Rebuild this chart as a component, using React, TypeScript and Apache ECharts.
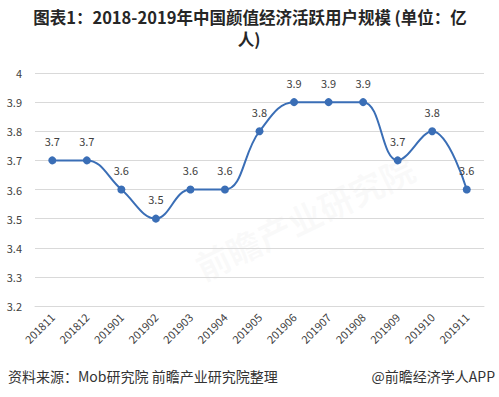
import React, { useEffect, useRef } from "react";
import * as echarts from "echarts";

const titleLine1 = "图表1：2018-2019年中国颜值经济活跃用户规模 (单位：亿";
const titleLine2 = "人)";
const sourceText = "资料来源：Mob研究院 前瞻产业研究院整理";
const creditText = "@前瞻经济学人APP";
const categories = [
  "201811", "201812", "201901", "201902", "201903", "201904", "201905",
  "201906", "201907", "201908", "201909", "201910", "201911",
];
const users = [3.7, 3.7, 3.6, 3.5, 3.6, 3.6, 3.8, 3.9, 3.9, 3.9, 3.7, 3.8, 3.6];

export default function App() {
  const ref = useRef<HTMLDivElement>(null);
  useEffect(() => {
    if (!ref.current) return;
    const chart = echarts.init(ref.current, null, { renderer: "svg" });
    const font = "'Noto Sans CJK SC', 'Microsoft YaHei', sans-serif";
    chart.setOption({
      animation: false,
      backgroundColor: "#ffffff",
      textStyle: { fontFamily: font },
      grid: { left: 35, right: 15, top: 73, bottom: 91, containLabel: false },
      xAxis: {
        type: "category",
        data: categories,
        boundaryGap: true,
        axisLine: { show: true, lineStyle: { color: "#d9d9d9" } },
        axisTick: { show: false },
        axisLabel: {
          rotate: 45,
          fontSize: 11,
          color: "#404040",
          margin: 9,
          interval: 0,
          fontFamily: font,
        },
      },
      yAxis: {
        type: "value",
        min: 3.2,
        max: 4,
        interval: 0.1,
        axisLine: { show: false },
        axisTick: { show: false },
        splitLine: { lineStyle: { color: "#d9d9d9", width: 1 } },
        axisLabel: {
          fontSize: 11,
          color: "#404040",
          margin: 13,
          formatter: (v: number) => String(Math.round(v * 10) / 10),
          fontFamily: font,
        },
      },
      series: [
        {
          type: "line",
          data: users,
          smooth: 0.4,
          symbol: "circle",
          symbolSize: 8,
          lineStyle: { color: "#3A6EB6", width: 2 },
          itemStyle: { color: "#3A6EB6" },
          label: {
            show: true,
            position: "top",
            distance: 10,
            fontSize: 11,
            color: "#404040",
            fontFamily: font,
          },
        },
      ],
      graphic: [
        {
          type: "text",
          x: 250,
          y: 9,
          style: {
            text: titleLine1,
            fontSize: 16.5,
            fontWeight: "bold",
            fill: "#262626",
            fontFamily: font,
            textAlign: "center",
          },
        },
        {
          type: "text",
          x: 249,
          y: 31,
          style: {
            text: titleLine2,
            fontSize: 16.5,
            fontWeight: "bold",
            fill: "#262626",
            fontFamily: font,
            textAlign: "center",
          },
        },
        {
          type: "text",
          left: 190,
          top: 150,
          rotation: Math.PI / 7,
          style: {
            text: "前瞻产业研究院",
            fontSize: 34,
            fontWeight: "bold",
            fill: "rgba(200,200,200,0.09)",
            fontFamily: font,
          },
          silent: true,
        },
        {
          type: "text",
          left: 8,
          top: 369,
          style: { text: sourceText, fontSize: 14, fill: "#333333", fontFamily: font },
        },
        {
          type: "text",
          right: 4,
          top: 369,
          style: { text: creditText, fontSize: 14, fill: "#333333", fontFamily: font },
        },
      ],
    });
    return () => chart.dispose();
  }, []);
  return (
    <div
      ref={ref}
      style={{ position: "fixed", left: 0, top: 0, width: 499, height: 397 }}
    />
  );
}
